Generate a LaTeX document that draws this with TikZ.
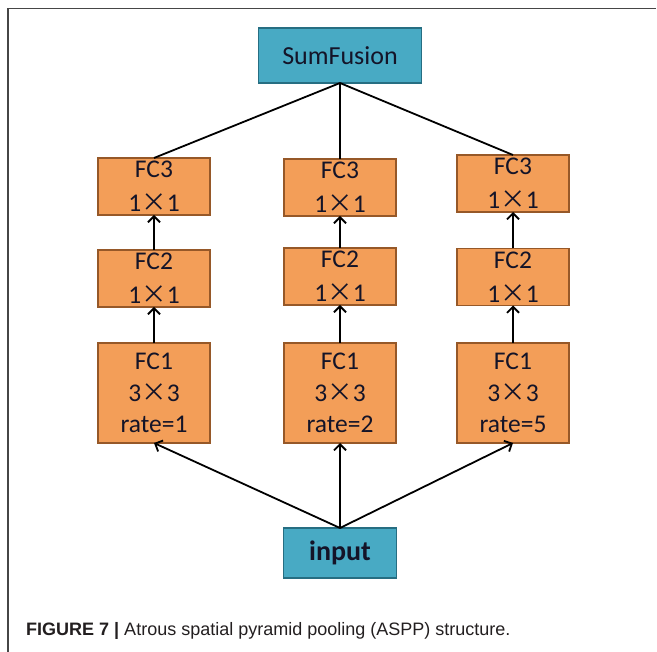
\documentclass[tikz,border=0pt]{standalone}
\usepackage{fontspec}
\setmainfont{Carlito}
\newfontfamily\capfont{Liberation Sans}
\newfontfamily\cjk{Noto Sans CJK SC}
\usetikzlibrary{arrows.meta}
\definecolor{orfill}{RGB}{243,158,88}
\definecolor{ordraw}{RGB}{150,88,40}
\definecolor{blfill}{RGB}{72,170,196}
\definecolor{bldraw}{RGB}{38,110,130}
\definecolor{boxtext}{RGB}{20,20,40}
\definecolor{captext}{RGB}{35,31,32}
\definecolor{framecol}{RGB}{70,70,70}
\newcommand{\tms}{{\cjk ×}}
\tikzset{
  fcbox/.style={draw=ordraw, fill=orfill, line width=1.4pt, minimum width=112pt, inner sep=0pt, outer sep=0pt},
  blbox/.style={draw=bldraw, fill=blfill, line width=1.4pt, inner sep=0pt, outer sep=0pt},
  fctext/.style={text=boxtext, font=\fontsize{25.5}{34}\selectfont, align=center, inner sep=0pt},
  conn/.style={line width=1.8pt, black},
  arr/.style={line width=1.8pt, black, -{Straight Barb[length=6pt,width=12pt,line width=1.8pt]}}
}
\begin{document}
\begin{tikzpicture}[x=1pt, y=-1pt]
\useasboundingbox (0,0) rectangle (657,652);
\fill[white] (0,0) rectangle (657,652);
\draw[framecol, line width=1.6pt] (8,652) -- (8,8.5) -- (656,8.5);

% top and bottom
\node[blbox, minimum width=163pt, minimum height=55pt] (sum) at (340,55.5) {};
\node[text=boxtext, font=\fontsize{26}{30}\selectfont, inner sep=0pt] (sumt) at (sum.center) {SumFusion};
\node[blbox, minimum width=113pt, minimum height=50pt] (inp) at (340,553) {};
\node[text=boxtext, font=\fontsize{28}{30}\selectfont\bfseries, inner sep=0pt] (inpt) at (inp.center) {input};

% columns
\foreach \c/\x/\yc/\yb/\r in {l/154/186.5/278.5/1, m/340/187.5/276.5/2, r/513/183.5/277/5}{
  \node[fcbox, minimum height=57pt] (\c3) at (\x,\yc) {};
  \node[fctext] (\c3t) at (\c3.center) {FC3\\1\tms1};
  \node[fcbox, minimum height=57pt] (\c2) at (\x,\yb) {};
  \node[fctext] (\c2t) at (\c2.center) {FC2\\1\tms1};
  \node[fcbox, minimum height=100pt] (\c1) at (\x,393) {};
  \node[fctext, font=\fontsize{25.5}{31.5}\selectfont] (\c1t) at (\c1.center) {FC1\\3\tms3\\rate=\r};
  \draw[arr] (\c1.north) -- (\c2.south);
  \draw[arr] (\c2.north) -- (\c3.south);
  \draw[conn] (sum.south) -- (\c3.north);
  \draw[arr] (inp.north) -- (\c1.south);
}

% caption
\node[anchor=base west, inner sep=0pt, text=captext, font=\capfont\fontsize{18}{21}\selectfont] (cap) at (26,636)
  {\textbf{FIGURE 7 |} Atrous spatial pyramid pooling (ASPP) structure.};
\end{tikzpicture}
\end{document}
